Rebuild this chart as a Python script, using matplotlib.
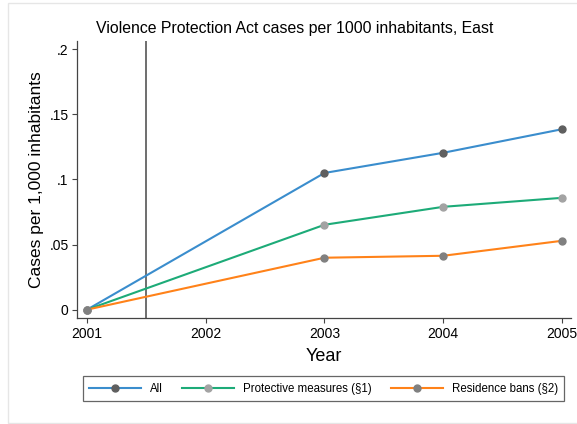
import matplotlib
matplotlib.use("Agg")
import matplotlib.pyplot as plt
from matplotlib.patches import Rectangle

plt.rcParams["font.family"] = ["Liberation Sans", "DejaVu Sans"]

years = [2001, 2003, 2004, 2005]
all_cases = [0.0, 0.105, 0.1205, 0.1386]
protective = [0.0, 0.0652, 0.079, 0.0859]
residence = [0.0, 0.0399, 0.0414, 0.0529]

series_names = ["All", "Protective measures (§1)", "Residence bans (§2)"]
line_colors = ["#3a8dcd", "#1dab78", "#ff8219"]
marker_colors = ["#5f5f5f", "#a3a3a3", "#808080"]

x_ticks = [2001, 2002, 2003, 2004, 2005]
y_ticks = [0, 0.05, 0.1, 0.15, 0.2]
y_tick_labels = ["0", ".05", ".1", ".15", ".2"]
reform_year = 2001.5

W, H = 577, 424
fig = plt.figure(figsize=(W / 100, H / 100), dpi=100)
ax = fig.add_axes([77 / W, 1 - 318 / H, (571 - 77) / W, (318 - 40.7) / H])

# light outer frame of the graph region
fig.patches.append(Rectangle((8.3 / W, 1 - 422.7 / H), 1.2, (422.7 - 2.5) / H,
                             transform=fig.transFigure, fill=False,
                             edgecolor="#e6e6e6", linewidth=1.0, zorder=0))

ax.axvline(reform_year, color="#6e6e6e", linewidth=1.4, zorder=1)

for vals, name, lc, mc in zip([all_cases, protective, residence], series_names,
                              line_colors, marker_colors):
    ax.plot(years, vals, color=lc, linewidth=1.5, marker="o", markersize=5,
            markerfacecolor=mc, markeredgecolor=mc, label=name, zorder=3)

ax.set_xlim(2000.916, 2005.076)
ax.set_ylim(-0.0064, 0.2066)
ax.set_xticks(x_ticks)
ax.set_xticklabels([str(y) for y in x_ticks])
ax.set_yticks(y_ticks)
ax.set_yticklabels(y_tick_labels)

for side in ["top", "right"]:
    ax.spines[side].set_visible(False)
for side in ["left", "bottom"]:
    ax.spines[side].set_color("#444444")
    ax.spines[side].set_linewidth(0.9)

ax.tick_params(axis="both", direction="out", length=3.6, width=0.8,
               color="#444444", labelsize=10, labelcolor="black")
ax.tick_params(axis="y", pad=2.5)
ax.tick_params(axis="x", pad=3)

fig.text(294.5 / W, 1 - 29 / H,
         "Violence Protection Act cases per 1000 inhabitants, East",
         fontsize=11.4, ha="center", va="center")
ax.set_ylabel("Cases per 1,000 inhabitants", fontsize=12.5, labelpad=4)
ax.set_xlabel("Year", fontsize=13, labelpad=5)

leg = ax.legend(loc="upper left", ncol=3,
                bbox_to_anchor=(82.7 / W, 1 - 376 / H),
                bbox_transform=fig.transFigure, borderaxespad=0, fontsize=8.3,
                handlelength=4.48, handletextpad=0.75, columnspacing=1.74,
                frameon=True, fancybox=False, borderpad=0.57)
leg.get_frame().set_edgecolor("#404040")
leg.get_frame().set_linewidth(0.9)

fig.savefig("out.png", dpi=100)
